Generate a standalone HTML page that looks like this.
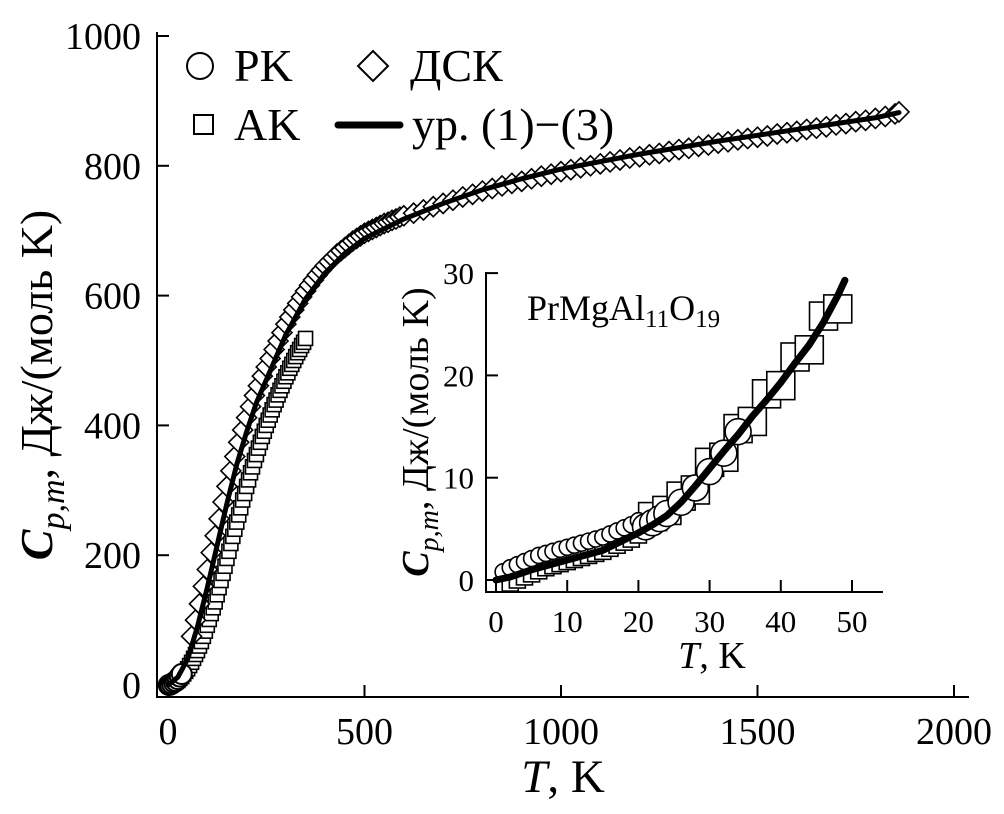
<!DOCTYPE html>
<html><head><meta charset="utf-8">
<style>
html,body{margin:0;padding:0;background:#fff;}
svg{display:block;font-family:"Liberation Serif","DejaVu Serif",serif;}
</style></head>
<body>
<svg id="chart" width="1004" height="814" viewBox="0 0 1004 814" xmlns="http://www.w3.org/2000/svg">
<g id="main"></g>
<g id="inset"></g>
<g id="legend">
  <circle cx="200" cy="66" r="13" fill="#fff" stroke="#000" stroke-width="2"/>
  <text x="234" y="81" font-size="46">PK</text>
  <path d="M373 51 L388 66 L373 81 L358 66 Z" fill="#fff" stroke="#000" stroke-width="2"/>
  <text x="410" y="81" font-size="46">ДСК</text>
  <rect x="194" y="115" width="19" height="19" fill="#fff" stroke="#000" stroke-width="2"/>
  <text x="234" y="140" font-size="46">AK</text>
  <line x1="338" y1="125" x2="400" y2="125" stroke="#000" stroke-width="7" stroke-linecap="round"/>
  <text x="412" y="140" font-size="46">ур. (1)−(3)</text>
</g>
</svg>
<script>
// ---- main chart data ----
const mainXTicks = [0, 500, 1000, 1500, 2000];
const mainYTicks = [0, 200, 400, 600, 800, 1000];
const fitT = [0,25,50,75,100,125,150,175,200,225,250,275,300,350,400,450,500,600,700,800,900,1000,1200,1400,1600,1800,1860];
const fitC = [0,12,40,90,150,215,280,340,390,435,470,505,540,595,635,665,688,718,742,763,780,795,818,838,856,874,882];
const akT = [5,10,15,20,25,30,35,40,45,50,55,60,65,70,75,80,85,90,95,100,105,110,115,120,125,130,135,140,145,150,155,160,165,170,175,180,185,190,195,200,205,210,215,220,225,230,235,240,245,250,255,260,265,270,275,280,285,290,295,300,305,310,315,320,325,330,335,340,345,350];
const akC = [1,2,3,5,7,10,13,17,21,25,30,35,41,47,53,60,67,75,83,92,101,110,119,128,139,150,161,172,183,195,206,218,229,240,251,262,273,285,295,306,316,327,336,346,355,365,374,383,391,400,408,416,424,432,439,447,454,461,468,475,481,488,494,500,506,512,517,523,528,534];
const dskT = [60,70,80,90,100,110,120,130,140,150,160,170,180,190,200,210,220,230,240,250,260,270,280,290,300,310,320,330,340,350,360,370,380,390,400,410,420,430,440,450,460,470,480,490,500,510,520,530,540,550,560,570,580,590,600,625,650,675,700,725,750,775,800,825,850,875,900,925,950,975,1000,1025,1050,1075,1100,1125,1150,1175,1200,1225,1250,1275,1300,1325,1350,1375,1400,1425,1450,1475,1500,1525,1550,1575,1600,1625,1650,1675,1700,1725,1750,1775,1800,1825,1850,1860];
const dskC = [75,100,125,152,178,204,230,256,282,306,330,352,374,393,412,429,446,461,476,490,503,517,530,543,556,567,578,588,598,607,616,624,632,639,646,652,658,664,669,674,679,684,688,692,696,699,702,705,708,711,713,716,718,721,723,727,732,737,742,747,752,756,761,765,769,773,776,780,784,787,791,794,797,800,803,806,809,812,814,817,819,822,825,827,830,832,835,837,840,842,844,846,849,851,853,856,858,860,863,865,868,870,873,876,880,883];
const rkT = [2,5,10,15,20,25,30,35];
const rkC = [0,0.3,2,4,6,9,13,17];

// ---- inset data ----
const inXTicks = [0,10,20,30,40,50];
const inYTicks = [0,10,20,30];
const inFitT = [0,2,5,10,15,20,22,24,26,28,30,32,34,36,38,40,42,44,46,48,49];
const inFitC = [0,0.3,1.0,1.95,2.9,4.6,5.4,6.3,7.6,9.2,10.9,12.6,14.2,16.0,17.6,19.3,21.2,23.0,25.2,27.8,29.3];
const inRkT = [1,2,3,4,5,6,7,8,9,10,11,12,13,14,15,16,17,18,19,20,21,22,23,24,26,28,30,32,34];
const inRkC = [0.8,1.2,1.5,1.8,2.1,2.4,2.6,2.8,3.0,3.2,3.4,3.6,3.8,4.0,4.2,4.5,4.8,5.1,5.4,5.8,5.2,5.6,6.0,6.5,7.6,9.0,10.6,12.4,14.5];
const inAkT = [2,3,4,5,6,7,8,9,10,11,12,13,14,15,16,17,18,19,20,22,24,26,28,30,32,34,36,38,40,42,44,46,48];
const inAkC = [-0.3,0,0.3,0.6,0.9,1.2,1.4,1.6,1.8,2.0,2.2,2.4,2.6,2.8,3.1,3.4,3.7,4.0,4.4,6.2,6.8,8.2,8.8,11.5,12.0,14.8,15.5,18.2,19.0,21.8,22.5,25.8,26.5];

const NS = "http://www.w3.org/2000/svg";
function mk(tag, attrs, parent){
  const e = document.createElementNS(NS, tag);
  for (const k in attrs) e.setAttribute(k, attrs[k]);
  parent.appendChild(e);
  return e;
}
const mx = v => 168 + v * 0.393;
const my = v => 685 - v * 0.649;
const ix = v => 496 + v * 7.12;
const iy = v => 580 - v * 10.23;

function diamond(g, x, y, s){
  return mk('path', {d:`M${x} ${y-s} L${x+s} ${y} L${x} ${y+s} L${x-s} ${y} Z`, fill:'#fff', stroke:'#000', 'stroke-width':1.6}, g);
}

// ===== MAIN =====
const gm = document.getElementById('main');
let e;
e = mk('path', {d:`M157 32 L157 697 L969 697`, fill:'none', stroke:'#000', 'stroke-width':2}, gm);


mainYTicks.forEach(v => {
  const t = mk('line', {x1:157, x2:169, y1:my(v), y2:my(v), stroke:'#000', 'stroke-width':2}, gm);
  
  
  const l = mk('text', {x:141, y:my(v)+13, 'font-size':38, 'text-anchor':'end'}, gm);
  l.textContent = v;
  
  
});
mainXTicks.forEach(v => {
  const t = mk('line', {x1:mx(v), x2:mx(v), y1:685, y2:697, stroke:'#000', 'stroke-width':2}, gm);
  
  
  const l = mk('text', {x:mx(v), y:744, 'font-size':38, 'text-anchor':'middle'}, gm);
  l.textContent = v;
  
  
});
e = mk('text', {x:563, y:792, 'font-size':47, 'text-anchor':'middle'}, gm);
e.innerHTML = '<tspan font-style="italic">T</tspan>, K';


e = mk('text', {x:0, y:0, 'font-size':46, 'text-anchor':'middle', transform:'translate(52,385) rotate(-90)'}, gm);
e.innerHTML = '<tspan font-style="italic" font-weight="bold">C</tspan><tspan font-style="italic" font-size="34" dy="12">p,m</tspan><tspan dy="-12">, Дж/(моль K)</tspan>';



akT.forEach((t, i) => {
  const r = mk('rect', {x:mx(t)-7, y:my(akC[i])-7, width:14, height:14, fill:'#fff', stroke:'#000', 'stroke-width':1.6}, gm);
  
  
});
dskT.forEach((t, i) => {
  const d = diamond(gm, mx(t), my(dskC[i]), 10);
  
  
});
rkT.forEach((t, i) => {
  const c = mk('circle', {cx:mx(t), cy:my(rkC[i]), r:10, fill:'#fff', stroke:'#000', 'stroke-width':2}, gm);
  
  
});
e = mk('polyline', {points: fitT.map((t,i)=>mx(t)+','+my(fitC[i])).join(' '), fill:'none', stroke:'#000', 'stroke-width':5, 'stroke-linejoin':'round', 'stroke-linecap':'round'}, gm);



// ===== INSET =====
const gi = document.getElementById('inset');
e = mk('rect', {x:385, y:255, width:555, height:425, fill:'#fff'}, gi);


e = mk('path', {d:`M486 272 L486 592 L883 592`, fill:'none', stroke:'#000', 'stroke-width':2}, gi);


inYTicks.forEach(v => {
  const t = mk('line', {x1:486, x2:498, y1:iy(v), y2:iy(v), stroke:'#000', 'stroke-width':2}, gi);
  
  
  const l = mk('text', {x:474, y:iy(v)+11, 'font-size':31, 'text-anchor':'end'}, gi);
  l.textContent = v;
  
  
});
inXTicks.forEach(v => {
  const t = mk('line', {x1:ix(v), x2:ix(v), y1:580, y2:592, stroke:'#000', 'stroke-width':2}, gi);
  
  
  const l = mk('text', {x:ix(v), y:632, 'font-size':31, 'text-anchor':'middle'}, gi);
  l.textContent = v;
  
  
});
e = mk('text', {x:712, y:668, 'font-size':38, 'text-anchor':'middle'}, gi);
e.innerHTML = '<tspan font-style="italic">T</tspan>, K';


e = mk('text', {x:0, y:0, 'font-size':38, 'text-anchor':'middle', transform:'translate(428,432) rotate(-90)'}, gi);
e.innerHTML = '<tspan font-style="italic" font-weight="bold">C</tspan><tspan font-style="italic" font-size="28" dy="10">p,m</tspan><tspan dy="-10">, Дж/(моль K)</tspan>';


e = mk('text', {x:527, y:320, 'font-size':36}, gi);
e.innerHTML = 'PrMgAl<tspan font-size="25" dy="7">11</tspan><tspan dy="-7">O</tspan><tspan font-size="25" dy="7">19</tspan>';



inAkT.forEach((t, i) => {
  const s = t < 21 ? 8 : 14;
  const r = mk('rect', {x:ix(t)-s, y:iy(inAkC[i])-s, width:2*s, height:2*s, fill:'#fff', stroke:'#000', 'stroke-width':1.6}, gi);
  
  
});
inRkT.forEach((t, i) => {
  const rr = t < 21 ? 8 : 13;
  const c = mk('circle', {cx:ix(t), cy:iy(inRkC[i]), r:rr, fill:'#fff', stroke:'#000', 'stroke-width':1.6}, gi);
  
  
});
e = mk('polyline', {points: inFitT.map((t,i)=>ix(t)+','+iy(inFitC[i])).join(' '), fill:'none', stroke:'#000', 'stroke-width':7, 'stroke-linejoin':'round', 'stroke-linecap':'round'}, gi);


</script>
</body></html>
